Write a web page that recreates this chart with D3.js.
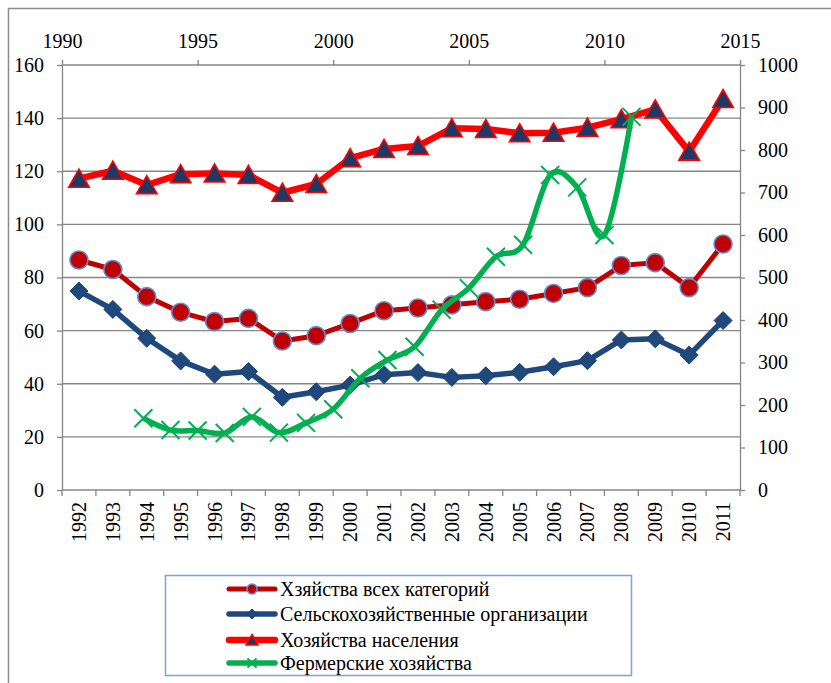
<!DOCTYPE html>
<html><head><meta charset="utf-8">
<script src="https://cdn.jsdelivr.net/npm/d3@7/dist/d3.min.js"></script>
<style>
html,body{margin:0;padding:0;background:#fff;}
svg{display:block;}
</style></head>
<body>
<svg id="chart" width="831" height="683"></svg>
<script>
// ---- data ----
const categories = ["1992","1993","1994","1995","1996","1997","1998","1999","2000","2001","2002","2003","2004","2005","2006","2007","2008","2009","2010","2011"];
const allCategories = [86.6,83.0,72.8,66.9,63.4,64.6,56.1,58.1,62.7,67.5,68.5,69.7,70.9,71.8,74.0,76.2,84.5,85.6,76.2,92.6];
const agriOrgs = [74.9,68.0,57.1,48.6,43.6,44.6,34.9,37.0,39.5,43.4,44.2,42.4,43.0,44.3,46.4,48.7,56.5,56.9,50.8,63.8];
const households = [117.2,120.2,114.8,118.9,119.2,118.6,111.9,115.2,124.9,128.4,129.5,136.2,135.9,134.3,134.5,136.4,139.6,143.3,127.4,147.2];
const farmYears = [1993,1994,1995,1996,1997,1998,1999,2000,2001,2002,2003,2004,2005,2006,2007,2008,2009,2010,2011];
const farms = [169,141,140,134,172,135,158,190,263,306,337,424,475,549,577,741,712,600,878];
const leftTicks = [0,20,40,60,80,100,120,140,160];
const rightTicks = [0,100,200,300,400,500,600,700,800,900,1000];
const topTicks = [1990,1995,2000,2005,2010,2015];
const seriesNames = ["Хзяйства всех категорий","Сельскохозяйственные организации","Хозяйства населения","Фермерские хозяйства"];

// ---- layout ----
const svg = d3.select("#chart");
const L = 62, R = 740, T = 65, B = 490;
const axisColor = "#868686";
const fontSize = 20;
const FONT = '"Liberation Serif"';

svg.append("rect").attr("x",8.5).attr("y",8.5).attr("width",840).attr("height",700)
  .attr("fill","#fff").attr("stroke","#8c8c8c").attr("stroke-width",1.5);

const x = d3.scaleBand().domain(categories).range([L,R]).paddingInner(0).paddingOuter(0);
const xTop = d3.scaleLinear().domain([1990,2015]).range([L,R]);
const yL = d3.scaleLinear().domain([0,160]).range([B,T]);
const yR = d3.scaleLinear().domain([0,1000]).range([B,T]);
const cx = d => x(d) + x.bandwidth()/2;

// gridlines
svg.append("g").selectAll("line").data(leftTicks.filter(v=>v>0)).join("line")
  .attr("x1",L).attr("x2",R).attr("y1",d=>yL(d)).attr("y2",d=>yL(d))
  .attr("stroke",axisColor).attr("stroke-width",1.3);

function styleAxis(g){
  g.select(".domain").attr("stroke",axisColor).attr("stroke-width",1.3);
  g.selectAll(".tick line").attr("stroke",axisColor).attr("stroke-width",1.3);
  g.selectAll("text").attr("fill","#000");
}

// left axis
svg.append("g").attr("transform",`translate(${L},0)`)
  .call(d3.axisLeft(yL).tickValues(leftTicks).tickFormat(d3.format("d")).tickSize(5).tickPadding(13).tickSizeOuter(0))
  .call(styleAxis);
// right axis
svg.append("g").attr("transform",`translate(${R},0)`)
  .call(d3.axisRight(yR).tickValues(rightTicks).tickFormat(d3.format("d")).tickSize(5).tickPadding(13).tickSizeOuter(0))
  .call(styleAxis);
// top axis
const gTop = svg.append("g").attr("transform",`translate(0,${T})`)
  .call(d3.axisTop(xTop).tickValues(topTicks).tickFormat(d3.format("d")).tickSize(5).tickPadding(12).tickSizeOuter(0))
  .call(styleAxis);
gTop.select(".domain").remove();

// bottom axis
const gBot = svg.append("g").attr("transform",`translate(0,${B})`);
gBot.append("line").attr("x1",L).attr("x2",R).attr("y1",0).attr("y2",0)
  .attr("stroke",axisColor).attr("stroke-width",1.3);
const boundaries = categories.map(c=>x(c)).concat([x(categories[categories.length-1])+x.bandwidth()]);
gBot.selectAll("line.tk").data(boundaries).join("line").attr("class","tk")
  .attr("x1",d=>d).attr("x2",d=>d).attr("y1",0).attr("y2",6)
  .attr("stroke",axisColor).attr("stroke-width",1.3);
gBot.selectAll("text").data(categories).join("text")
  .attr("transform",d=>`translate(${cx(d)},12) rotate(-90)`)
  .attr("text-anchor","end").attr("dy","0.35em").text(d=>d);

// marker helpers
function markerPath(type, s){
  const p = d3.path();
  if(type==="circle"){ p.arc(0,0,s,0,2*Math.PI); }
  else if(type==="diamond"){ p.moveTo(0,-s); p.lineTo(s,0); p.lineTo(0,s); p.lineTo(-s,0); p.closePath(); }
  else if(type==="triangle"){ p.moveTo(0,-s); p.lineTo(s*1.08,s*0.9); p.lineTo(-s*1.08,s*0.9); p.closePath(); }
  else if(type==="x"){ p.moveTo(-s,-s); p.lineTo(s,s); p.moveTo(-s,s); p.lineTo(s,-s); }
  return p.toString();
}

const series = [
  {name:seriesNames[0], vals:allCategories, line:"#C00000", lw:5, marker:"circle", ms:9, mfill:"#C00000", mstroke:"#5B8FD0", msw:1.6, lms:5},
  {name:seriesNames[1], vals:agriOrgs, line:"#1F497D", lw:5.5, marker:"diamond", ms:9, mfill:"#1F497D", mstroke:"#1F3F6E", msw:1, lms:5},
  {name:seriesNames[2], vals:households, line:"#FF0000", lw:6.5, marker:"triangle", ms:9.5, mfill:"#1F3864", mstroke:"#FF0000", msw:1.6, lms:5.5},
];

const lineGen = d3.line().x(d=>cx(d.c)).y(d=>yL(d.v));
series.forEach(s=>{
  const pts = categories.map((c,i)=>({c, v:s.vals[i]}));
  svg.append("path").datum(pts).attr("d",lineGen).attr("fill","none")
    .attr("stroke",s.line).attr("stroke-width",s.lw).attr("stroke-linejoin","round");
  svg.append("g").selectAll("path").data(pts).join("path")
    .attr("transform",d=>`translate(${cx(d.c)},${yL(d.v)})`)
    .attr("d",markerPath(s.marker,s.ms))
    .attr("fill",s.mfill).attr("stroke",s.mstroke).attr("stroke-width",s.msw);
});

// green series on secondary axes (smoothed)
const green = "#00B050";
const gpts = farmYears.map((yv,i)=>({x:yv, v:farms[i]}));
svg.append("path").datum(gpts)
  .attr("d", d3.line().x(d=>xTop(d.x)).y(d=>yR(d.v)).curve(d3.curveCatmullRom.alpha(0)))
  .attr("fill","none").attr("stroke",green).attr("stroke-width",5.5).attr("stroke-linejoin","round");
svg.append("g").selectAll("path").data(gpts).join("path")
  .attr("transform",d=>`translate(${xTop(d.x)},${yR(d.v)})`)
  .attr("d",markerPath("x",9)).attr("fill","none").attr("stroke",green).attr("stroke-width",2);

// legend
const lg = svg.append("g");
lg.append("rect").attr("x",165.5).attr("y",575.5).attr("width",466).attr("height",100)
  .attr("fill","#fff").attr("stroke","#7EA3D3").attr("stroke-width",1.5);
const legendItems = series.concat([{name:seriesNames[3], line:green, lw:5.5, marker:"x", ms:4.5, mfill:"none", mstroke:green, msw:2, lms:4.5}]);
const rowY = [589, 614, 640, 663];
legendItems.forEach((s,i)=>{
  const yy = rowY[i];
  lg.append("line").attr("x1",229).attr("x2",275).attr("y1",yy).attr("y2",yy)
    .attr("stroke",s.line).attr("stroke-width",s.lw).attr("stroke-linecap","round");
  lg.append("path").attr("transform",`translate(252,${yy})`)
    .attr("d",markerPath(s.marker,s.lms))
    .attr("fill",s.mfill).attr("stroke",s.mstroke).attr("stroke-width",s.msw);
  lg.append("text").attr("x",280).attr("y",yy).attr("dy","0.35em").text(s.name);
});

// fonts applied inline on every text
svg.selectAll("text").style("font-family",FONT).style("font-size",fontSize+"px").attr("fill","#000");
</script>
</body></html>
